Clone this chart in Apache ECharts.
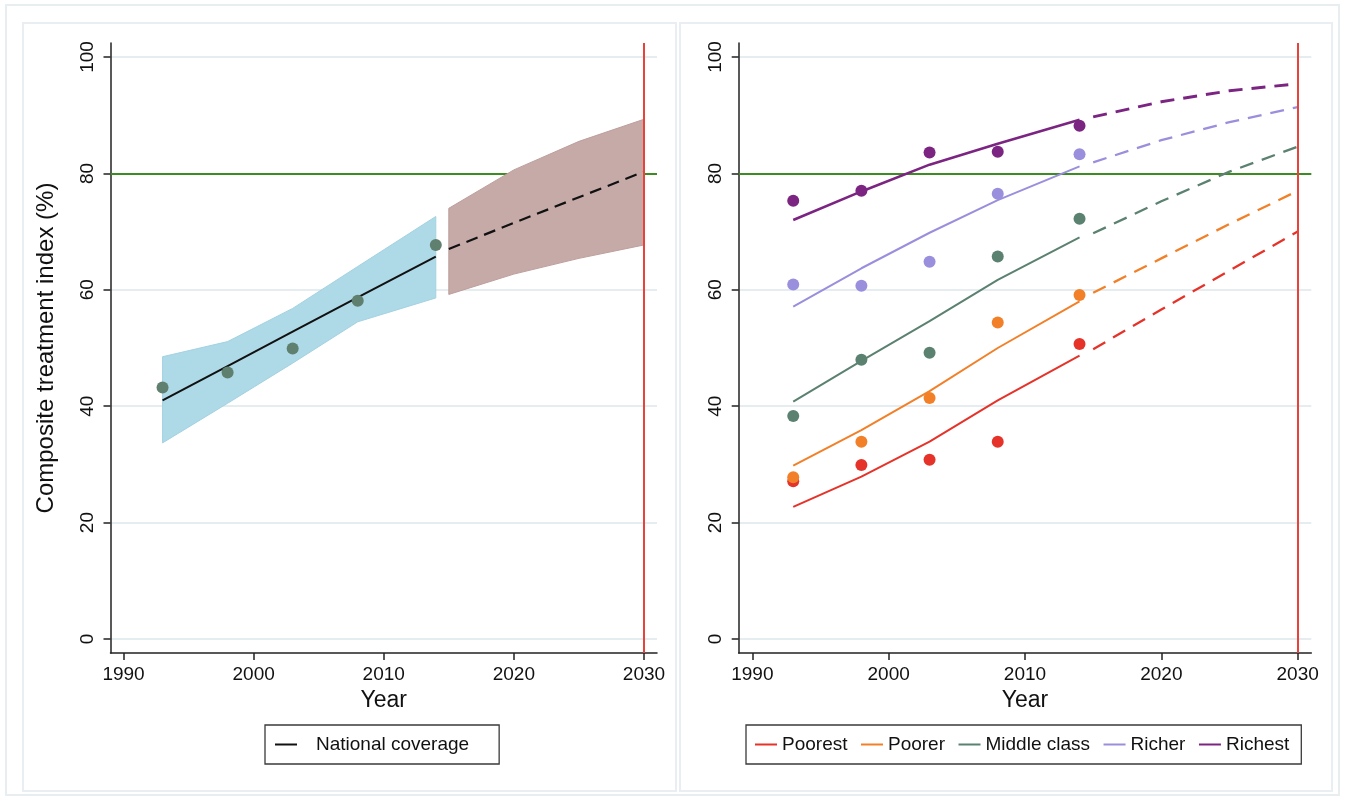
<!DOCTYPE html>
<html><head><meta charset="utf-8">
<script src="https://cdn.jsdelivr.net/npm/echarts@6/dist/echarts.min.js"></script>
<style>html,body{margin:0;padding:0;background:#fff}#chart{width:1352px;height:803px}</style>
</head><body><div id="chart"></div>
<script>
// ---------- data ----------
const obsYears = [1993, 1998, 2003, 2008, 2014];
const projYears = [2015, 2020, 2025, 2030];
const xTicks = [1990, 2000, 2010, 2020, 2030];
const yTicks = [0, 20, 40, 60, 80, 100];
const targetCoverage = 80;
const targetYear = 2030;

// national (left panel)
const natObs = [43.2, 45.8, 49.9, 58.1, 67.7];
const natFit = [41.0, 46.9, 52.8, 58.7, 65.7];
const natCiLow = [33.7, 40.5, 47.4, 54.5, 58.6];
const natCiHigh = [48.5, 51.1, 56.8, 64.0, 72.6];
const natProj = [67.0, 71.5, 75.9, 80.3];
const natProjLow = [59.2, 62.7, 65.4, 67.7];
const natProjHigh = [74.0, 80.6, 85.5, 89.3];

// wealth quintiles (right panel)
const groups = ['Poorest', 'Poorer', 'Middle class', 'Richer', 'Richest'];
const poorestObs = [27.1, 29.9, 30.8, 33.9, 50.7];
const poorerObs = [27.8, 33.9, 41.4, 54.4, 59.1];
const middleObs = [38.3, 48.0, 49.2, 65.7, 72.2];
const richerObs = [60.9, 60.7, 64.8, 76.5, 83.3];
const richestObs = [75.3, 77.0, 83.6, 83.7, 88.2];

const poorestFit = [22.7, 27.9, 33.9, 41.0, 48.7];
const poorerFit = [29.8, 35.9, 42.6, 50.0, 58.0];
const middleFit = [40.8, 47.8, 54.6, 61.7, 69.0];
const richerFit = [57.1, 63.7, 69.8, 75.4, 81.2];
const richestFit = [72.0, 76.9, 81.5, 85.1, 89.2];

const poorestProj = [49.8, 56.6, 63.3, 70.0];
const poorerProj = [59.5, 65.4, 71.3, 77.0];
const middleProj = [69.7, 75.2, 80.3, 84.6];
const richerProj = [81.9, 85.7, 88.8, 91.4];
const richestProj = [89.7, 92.3, 94.2, 95.4];

// ---------- styling ----------
const FONT = '"Liberation Sans", Arial, sans-serif';
const groupColors = ['#e5332a', '#f28029', '#5b8170', '#9a8fdc', '#7b2482'];
const groupObs = [poorestObs, poorerObs, middleObs, richerObs, richestObs];
const groupFit = [poorestFit, poorerFit, middleFit, richerFit, richestFit];
const groupProj = [poorestProj, poorerProj, middleProj, richerProj, richestProj];
const groupWidth = [2, 2, 2, 2, 2.6];

const pair = (xs, ys) => xs.map((x, i) => [x, ys[i]]);
const triple = (xs, lo, hi) => xs.map((x, i) => [x, lo[i], hi[i]]);

function xAxisFor(idx) {
  return {
    type: 'value', gridIndex: idx, min: 1989, max: 2031,
    name: 'Year', nameLocation: 'middle', nameGap: 36,
    nameTextStyle: { fontFamily: FONT, fontSize: 23, color: '#111' },
    axisLine: { onZero: false, lineStyle: { color: '#222', width: 1.5 } },
    axisTick: { customValues: xTicks, length: 7, lineStyle: { color: '#222', width: 1.5 } },
    axisLabel: { customValues: xTicks, formatter: v => String(v), fontFamily: FONT, fontSize: 19, color: '#111', margin: 12 },
    splitLine: { show: false }
  };
}
function yAxisFor(idx, withName) {
  return {
    type: 'value', gridIndex: idx, min: -2.4, max: 102.4,
    name: withName ? 'Composite treatment index (%)' : '',
    nameLocation: 'middle', nameGap: 52, nameRotate: 90,
    nameTextStyle: { fontFamily: FONT, fontSize: 24, color: '#111' },
    axisLine: { show: true, onZero: false, lineStyle: { color: '#222', width: 1.5 } },
    axisTick: { show: true, customValues: yTicks, length: 7, lineStyle: { color: '#222', width: 1.5 } },
    axisLabel: { customValues: yTicks, formatter: v => String(v), rotate: 90, fontFamily: FONT, fontSize: 19, color: '#111', margin: 13 },
    splitLine: { show: true, lineStyle: { color: '#e5edf0', width: 2 } }
  };
}

const greenLine = {
  silent: true, symbol: 'none', label: { show: false }, z: 1,
  lineStyle: { color: '#3d8b23', width: 2, type: 'solid' },
  data: [{ yAxis: targetCoverage }]
};
const redLine = {
  silent: true, symbol: 'none', label: { show: false }, z: 5,
  lineStyle: { color: '#e8423a', width: 2, type: 'solid' },
  data: [{ xAxis: targetYear }]
};

// band drawn as one polygon through the axes' scales
function bandSeries(data, fill, stroke, z) {
  return {
    type: 'custom', xAxisIndex: 0, yAxisIndex: 0, silent: true, z: z,
    data: data,
    encode: { x: 0, y: [1, 2] },
    renderItem: function (params, api) {
      if (params.dataIndex !== 0) return null;
      const upper = data.map(d => api.coord([d[0], d[2]]));
      const lower = data.map(d => api.coord([d[0], d[1]])).reverse();
      return {
        type: 'polygon',
        shape: { points: upper.concat(lower) },
        style: { fill: fill, stroke: stroke, lineWidth: 1 }
      };
    }
  };
}

const series = [];
// ---- left panel ----
series.push({
  type: 'line', xAxisIndex: 0, yAxisIndex: 0, symbol: 'none', data: [],
  markLine: greenLine
});
series.push(bandSeries(triple(obsYears, natCiLow, natCiHigh), '#aed9e7', '#a3d2e2', 2));
series.push(bandSeries(triple(projYears, natProjLow, natProjHigh), '#c6aaa7', '#bd9f9c', 3));
series.push({
  name: 'National coverage', type: 'line', xAxisIndex: 0, yAxisIndex: 0, symbol: 'none',
  data: pair(obsYears, natFit), lineStyle: { color: '#111', width: 2 },
  itemStyle: { color: '#111' }, z: 4
});
series.push({
  type: 'line', xAxisIndex: 0, yAxisIndex: 0, symbol: 'none',
  data: pair(projYears, natProj), lineStyle: { color: '#111', width: 2.2, type: [12, 7] }, z: 4,
  markLine: redLine
});
series.push({
  type: 'scatter', xAxisIndex: 0, yAxisIndex: 0, symbolSize: 12,
  data: pair(obsYears, natObs), itemStyle: { color: '#5f7f6f', opacity: 1 }, z: 6
});

// ---- right panel ----
series.push({
  type: 'line', xAxisIndex: 1, yAxisIndex: 1, symbol: 'none', data: [],
  markLine: greenLine
});
groups.forEach((g, i) => {
  series.push({
    name: g, type: 'line', xAxisIndex: 1, yAxisIndex: 1, symbol: 'none',
    data: pair(obsYears, groupFit[i]), lineStyle: { color: groupColors[i], width: groupWidth[i] },
    itemStyle: { color: groupColors[i] }, z: 4
  });
  series.push({
    type: 'line', xAxisIndex: 1, yAxisIndex: 1, symbol: 'none',
    data: pair(projYears, groupProj[i]),
    lineStyle: { color: groupColors[i], width: groupWidth[i] + 0.3, type: [14, 9] }, z: 4,
    markLine: i === 0 ? redLine : undefined
  });
  series.push({
    type: 'scatter', xAxisIndex: 1, yAxisIndex: 1, symbolSize: 12,
    data: pair(obsYears, groupObs[i]), itemStyle: { color: groupColors[i], opacity: 1 }, z: 6
  });
});

const legendBase = {
  orient: 'horizontal', icon: 'rect', itemWidth: 22, itemHeight: 2, itemGap: 13.5,
  borderColor: '#3a3a3a', borderWidth: 1.3, borderRadius: 0,
  textStyle: { fontFamily: FONT, fontSize: 19, color: '#111' },
  selectedMode: false
};

const option = {
  animation: false,
  backgroundColor: '#ffffff',
  graphic: [
    { type: 'rect', silent: true, z: -10, shape: { x: 6, y: 5, width: 1333, height: 790 },
      style: { fill: 'none', stroke: '#e8edf0', lineWidth: 2 } },
    { type: 'rect', silent: true, z: -10, shape: { x: 23, y: 23, width: 653, height: 768 },
      style: { fill: 'none', stroke: '#e8eef1', lineWidth: 2 } },
    { type: 'rect', silent: true, z: -10, shape: { x: 680, y: 23, width: 652, height: 768 },
      style: { fill: 'none', stroke: '#e8eef1', lineWidth: 2 } }
  ],
  grid: [
    { left: 110.5, top: 43, width: 546.5, height: 610 },
    { left: 738.7, top: 43, width: 572.6, height: 610 }
  ],
  xAxis: [xAxisFor(0), xAxisFor(1)],
  yAxis: [yAxisFor(0, true), yAxisFor(1, false)],
  legend: [
    Object.assign({}, legendBase, {
      data: ['National coverage'], left: 265, top: 725,
      padding: [10, 30, 10, 10],
      textStyle: { fontFamily: FONT, fontSize: 19, color: '#111', padding: [0, 0, 0, 14] }
    }),
    Object.assign({}, legendBase, {
      data: groups, left: 746, top: 725, padding: [10, 12, 10, 9]
    })
  ],
  series: series
};

const chart = echarts.init(document.getElementById('chart'), null, { renderer: 'canvas' });
chart.setOption(option);
</script>
</body></html>
